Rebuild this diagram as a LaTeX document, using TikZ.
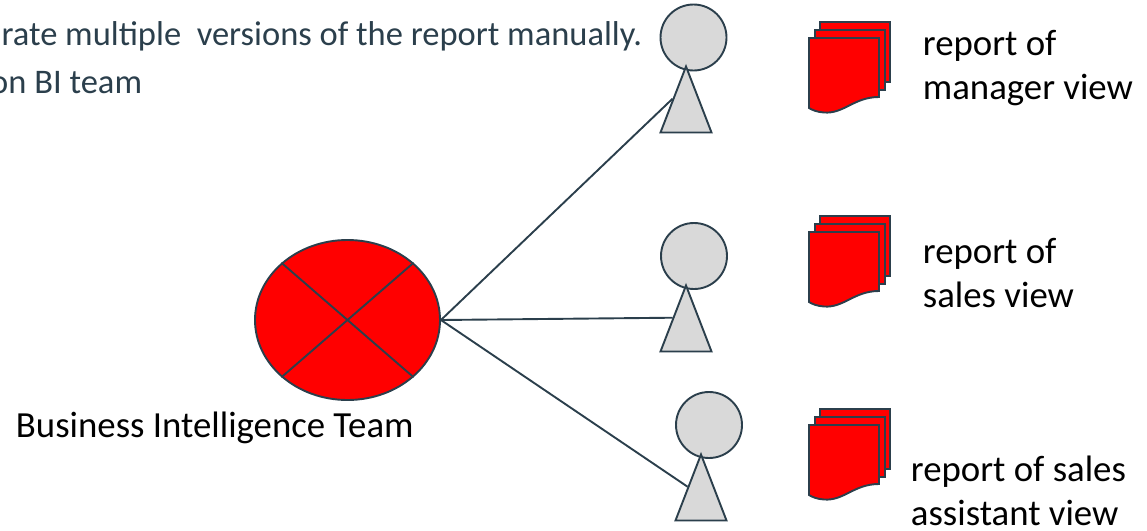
\documentclass[tikz,border=0pt]{standalone}
\usepackage{fontspec}
\setmainfont{Carlito}
\usetikzlibrary{shapes.geometric}
\definecolor{slateline}{HTML}{2B3F4C}
\definecolor{figgray}{HTML}{D9D9D9}

\tikzset{
  report stack/.pic={
    \path[sheet] (11,-16) rectangle (81,44);
    \path[sheet] (6,-8) rectangle (76,52);
    \path[sheet] (0,0) -- (70,0) -- (70,59) .. controls (45,59) and (35,76) .. (15,74.5)
      .. controls (8,74) and (3,72) .. (0,70) -- cycle;
  }
}

\begin{document}
\begin{tikzpicture}[x=1pt,y=-1pt,line width=1.9pt,
                    sheet/.style={draw=slateline,fill=red},
                    head node/.style={circle,draw=slateline,fill=figgray,inner sep=0pt,minimum size=66pt},
                    body node/.style={isosceles triangle,isosceles triangle stretches,shape border rotate=90,
                      draw=slateline,fill=figgray,inner sep=0pt,minimum width=51pt,minimum height=66pt,anchor=apex},
                    team node/.style={ellipse,draw=slateline,fill=red,inner sep=0pt,minimum width=185pt,minimum height=160pt},
                    label node/.style={font=\fontsize{36.8}{44}\selectfont,align=left,inner sep=0pt,anchor=base west},
                    note node/.style={font=\fontsize{34.5}{36}\selectfont,text=slateline,inner sep=0pt,anchor=base east}]
  \useasboundingbox (0,0) rectangle (1147,530);

  \node[note node] (N1) at (643,45) {rate multiple\ \ versions of the report manually.};
  \node[note node] (N2) at (143,93) {on BI team};

  \node[team node] (T) at (347.5,320) {};
  \node[label node] (TL) at (15,437) {Business Intelligence Team};

  \node[head node] (H1) at (693.5,37.5) {};
  \node[body node] (B1) at (686,64) {};
  \node[head node] (H2) at (694,256) {};
  \node[body node] (B2) at (686,283) {};
  \node[head node] (H3) at (709,425) {};
  \node[body node] (B3) at (701,452) {};

  \pic at (809,38) {report stack};
  \pic at (809,232) {report stack};
  \pic at (809,425) {report stack};

  \node[label node] (L1) at (922,99) {report of\\manager view};
  \node[label node] (L2) at (922,307) {report of\\sales view};
  \node[label node] (L3) at (910,525) {report of sales\\assistant view};

  \path[draw=slateline]
    (T.north west) edge (T.south east)
    (T.north east) edge (T.south west)
    (T.east) edge (B1.left side)
             edge (B2.left side)
             edge (B3.left side);
\end{tikzpicture}
\end{document}
